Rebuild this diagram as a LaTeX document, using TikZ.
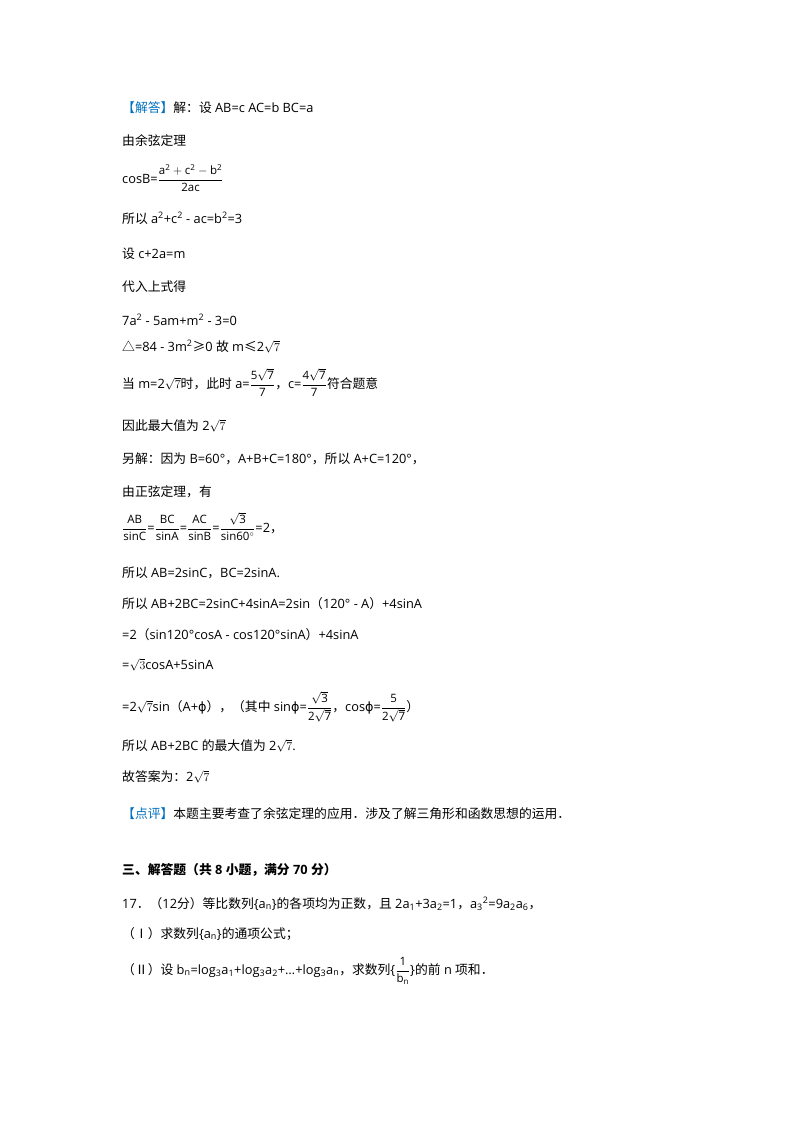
\documentclass[tikz,border=0pt]{standalone}
\usepackage{fontspec}
\setmainfont{Open Sans}
\newfontfamily\cjk{Noto Sans CJK SC}
\newfontfamily\djv{DejaVu Sans}
\begin{document}
\begin{tikzpicture}[x=1pt,y=-1pt,every node/.style={anchor=base west,inner sep=0pt,font=\fontsize{12.8}{15}\selectfont}]
\useasboundingbox (0,0) rectangle (800,1132);
\newcommand\C[1]{{\cjk #1}}
\newcommand\F[2]{{\fontsize{11.5}{13}\selectfont$\displaystyle\frac{\mathrm{#1}}{\mathrm{#2}}$}}
\definecolor{bl}{RGB}{0,112,192}
\node (l1) at (122,112) {\textcolor{bl}{\C{【解答】}}\C{解：设} AB=c AC=b BC=a};
\node (l2) at (122,145) {\C{由余弦定理}};
\node (l3) at (122,183) {cosB=\F{a^2+c^2-b^2}{2ac}};
\node (l4) at (122,223) {\C{所以} a\textsuperscript{2}+c\textsuperscript{2} - ac=b\textsuperscript{2}=3};
\node (l5) at (122,258) {\C{设} c+2a=m};
\node (l6) at (122,291) {\C{代入上式得}};
\node (l7) at (122,325) {7a\textsuperscript{2} - 5am+m\textsuperscript{2} - 3=0};
\node (l8) at (122,351) {\C{△}=84 - 3m\textsuperscript{2}\C{≥}0 \C{故} m\C{≤}2$\sqrt{7}$};
\node (l9) at (122,388) {\C{当} m=2$\sqrt{7}$\C{时，此时} a=\F{5\sqrt7}{7}\C{，}c=\F{4\sqrt7}{7}\C{符合题意}};
\node (l10) at (122,430) {\C{因此最大值为} 2$\sqrt{7}$};
\node (l11) at (122,463) {\C{另解：因为} B=60°\C{，}A+B+C=180°\C{，所以} A+C=120°\C{，}};
\node (l12) at (122,496) {\C{由正弦定理，有}};
\node (l13) at (122,532) {\F{AB}{sinC}=\F{BC}{sinA}=\F{AC}{sinB}=\F{\sqrt3}{sin60^\circ}=2\C{，}};
\node (l14) at (122,577) {\C{所以} AB=2sinC\C{，}BC=2sinA.};
\node (l15) at (122,608) {\C{所以} AB+2BC=2sinC+4sinA=2sin\C{（}120° - A\C{）}+4sinA};
\node (l16) at (122,639) {=2\C{（}sin120°cosA - cos120°sinA\C{）}+4sinA};
\node (l17) at (122,669) {=$\sqrt{3}$cosA+5sinA};
\node (l18) at (122,711) {=2$\sqrt{7}$sin\C{（}A+{\djv ϕ}\C{），（其中} sin{\djv ϕ}=\F{\sqrt3}{2\sqrt7}\C{，}cos{\djv ϕ}=\F{5}{2\sqrt7}\C{）}};
\node (l19) at (122,750) {\C{所以} AB+2BC \C{的最大值为} 2$\sqrt{7}$.};
\node (l20) at (122,781) {\C{故答案为：}2$\sqrt{7}$};
\node (l21) at (122,818) {\textcolor{bl}{\C{【点评】}}\C{本题主要考查了余弦定理的应用．涉及了解三角形和函数思想的运用．}};
\node (l22) at (122,874) {\bfseries\C{\bfseries 三、解答题（共} 8 \C{小题，满分} 70 \C{分）}};
\node (l23) at (122,908) {17\C{．（}12\C{分）等比数列}\{a\textsubscript{n}\}\C{的各项均为正数，且} 2a\textsubscript{1}+3a\textsubscript{2}=1\C{，}a\textsubscript{3}\textsuperscript{2}=9a\textsubscript{2}a\textsubscript{6}\C{，}};
\node (l24) at (122,938) {\C{（Ⅰ）求数列}\{a\textsubscript{n}\}\C{的通项公式；}};
\node (l25) at (122,974) {\C{（Ⅱ）设} b\textsubscript{n}=log\textsubscript{3}a\textsubscript{1}+log\textsubscript{3}a\textsubscript{2}+…+log\textsubscript{3}a\textsubscript{n}\C{，求数列}\{\F{1}{b_n}\}\C{的前} n \C{项和．}};
\end{tikzpicture}
\end{document}
